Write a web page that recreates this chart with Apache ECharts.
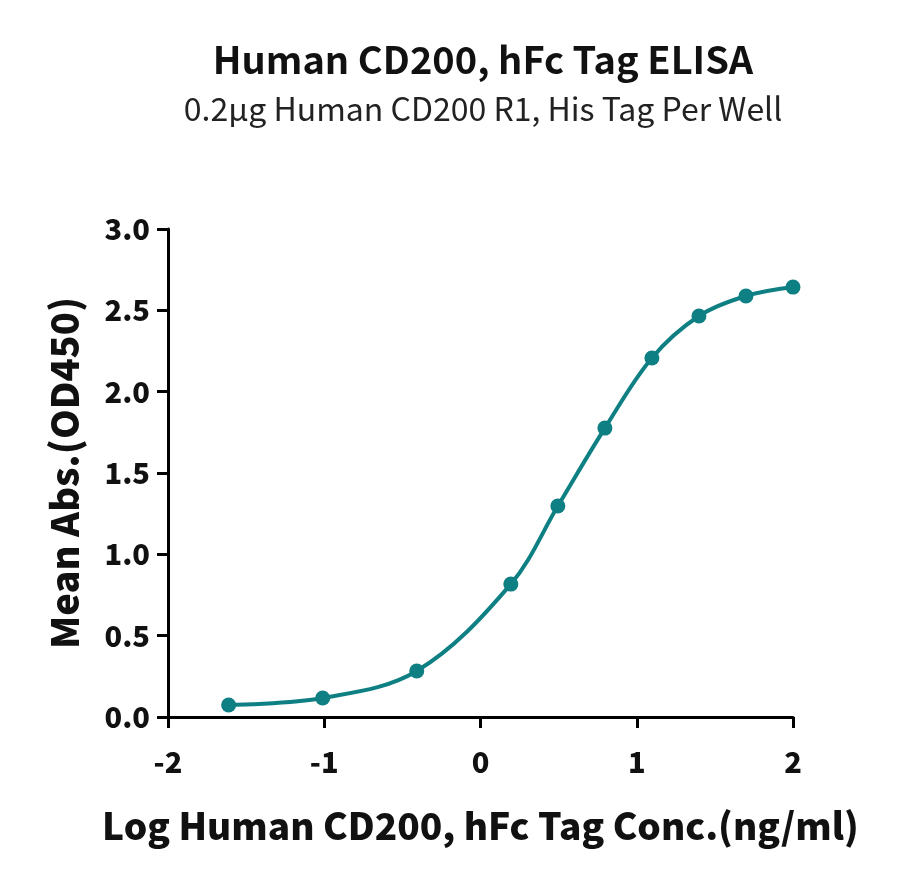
<!DOCTYPE html>
<html>
<head>
<meta charset="utf-8">
<script src="https://cdn.jsdelivr.net/npm/echarts@6/dist/echarts.min.js"></script>
<style>
html,body{margin:0;padding:0;background:#fff;}
#chart{width:900px;height:880px;}
</style>
</head>
<body>
<div id="chart"></div>
<script>
// log concentration (ng/ml) and mean OD450
var logConc = [-1.612, -1.010, -0.408, 0.194, 0.495, 0.796, 1.097, 1.398, 1.699, 2.0];
var meanAbs = [0.074, 0.117, 0.283, 0.817, 1.297, 1.776, 2.207, 2.465, 2.588, 2.643];
var xTicks = [-2, -1, 0, 1, 2];
var yTicks = [0.0, 0.5, 1.0, 1.5, 2.0, 2.5, 3.0];

var font = '"Noto Sans CJK SC", "Noto Sans", sans-serif';
var teal = '#0E7F82';

var points = [];
for (var i = 0; i < logConc.length; i++) {
    points.push([logConc[i], meanAbs[i]]);
}

var chart = echarts.init(document.getElementById('chart'));
var option = {
    backgroundColor: '#fff',
    animation: false,
    title: {
        text: 'Human CD200, hFc Tag ELISA',
        subtext: '0.2μg Human CD200 R1, His Tag Per Well',
        left: 478,
        textAlign: 'center',
        top: 36,
        itemGap: 14,
        textStyle: {fontFamily: font, fontSize: 38, fontWeight: 'bold', color: '#111'},
        subtextStyle: {fontFamily: font, fontSize: 32, color: '#222'}
    },
    grid: {left: 168, right: 107, top: 229, bottom: 163, containLabel: false},
    xAxis: {
        type: 'value',
        min: xTicks[0],
        max: xTicks[xTicks.length - 1],
        interval: 1,
        name: 'Log Human CD200, hFc Tag Conc.(ng/ml)',
        nameLocation: 'middle',
        nameGap: 90,
        nameTextStyle: {fontFamily: font, fontSize: 37, fontWeight: 900, color: '#111'},
        axisLine: {show: true, onZero: false, lineStyle: {color: '#000', width: 3}},
        axisTick: {show: true, length: 11, lineStyle: {color: '#000', width: 3}},
        axisLabel: {fontFamily: font, fontSize: 29, fontWeight: 900, color: '#111', margin: 30},
        splitLine: {show: false}
    },
    yAxis: {
        type: 'value',
        min: yTicks[0],
        max: yTicks[yTicks.length - 1],
        interval: 0.5,
        name: 'Mean Abs.(OD450)',
        nameLocation: 'middle',
        nameGap: 84,
        nameTextStyle: {fontFamily: font, fontSize: 38, fontWeight: 900, color: '#111'},
        axisLine: {show: true, onZero: false, lineStyle: {color: '#000', width: 3}},
        axisTick: {show: true, length: 11, lineStyle: {color: '#000', width: 3}},
        axisLabel: {
            fontFamily: font, fontSize: 29, fontWeight: 900, color: '#111', margin: 18,
            formatter: function (v) { return v.toFixed(1); }
        },
        splitLine: {show: false}
    },
    series: [{
        type: 'line',
        data: points,
        smooth: 0.35,
        symbol: 'circle',
        symbolSize: 15,
        lineStyle: {color: teal, width: 4},
        itemStyle: {color: teal}
    }]
};
chart.setOption(option);
</script>
</body>
</html>
